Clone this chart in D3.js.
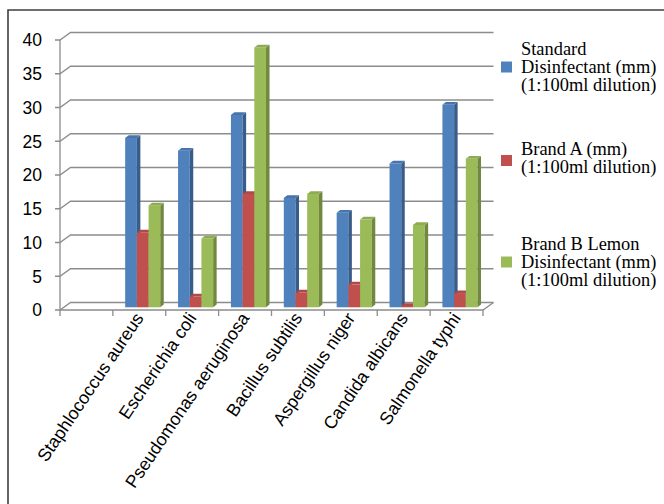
<!DOCTYPE html>
<html>
<head>
<meta charset="utf-8">
<script src="https://cdn.jsdelivr.net/npm/d3@7"></script>
<style>
  body { margin: 0; background: #fff; }
  svg { display: block; }
</style>
</head>
<body>
<svg id="chart" width="664" height="504"></svg>
<script>
const categories = ["Staphlococcus aureus", "Escherichia coli", "Pseudomonas aeruginosa",
  "Bacillus subtilis", "Aspergillus niger", "Candida albicans", "Salmonella typhi"]
const standard = [25.1, 23.2, 28.5, 16.2, 14.0, 21.3, 30.0]
const brandA = [11.1, 1.6, 16.8, 2.2, 3.4, 0.2, 2.1]
const brandB = [15.1, 10.2, 38.5, 16.8, 13.0, 12.2, 22.0]
const seriesNames = [
  ["Standard", "Disinfectant (mm)", "(1:100ml dilution)"],
  ["Brand A (mm)", "(1:100ml dilution)"],
  ["Brand B Lemon", "Disinfectant (mm)", "(1:100ml dilution)"]
]

const colors = [
  {front: "#4f81bd", side: "#385d8a", top: "#4674ab"},
  {front: "#c0504d", side: "#8c3836", top: "#b14a47"},
  {front: "#9bbb59", side: "#71893f", top: "#8eac52"}
]

const svg = d3.select("#chart")

// frame (top + left only, like the cropped original)
svg.append("path")
  .attr("d", "M8,504 L8,10 L664,10")
  .attr("fill", "none")
  .attr("stroke", "#3f3f3f")
  .attr("stroke-width", 1.6)

// the first slot of the axis is empty in the original
const x = d3.scaleBand().domain(["", ...categories]).range([60, 483]).padding(0)
const y = d3.scaleLinear().domain([0, 40]).range([310, 40])

const wall = {dx: 10.5, dy: -7.5}
const bar = {offset: 12.3, width: 11.7, depth: 3.5, rise: -2.7}

const grid = svg.append("g")
  .attr("fill", "none")
  .attr("stroke", "#8c8c8c")
  .attr("stroke-width", 1.3)

y.ticks(8).forEach(v => {
  const yy = y(v)
  grid.append("path")
    .attr("d", `M55,${yy} L60,${yy} L${60 + wall.dx},${yy + wall.dy} L${483 + wall.dx},${yy + wall.dy}`)
})
// floor front edge + right side
grid.append("path")
  .attr("d", `M60,${y(0)} L483,${y(0)} L${483 + wall.dx},${y(0) + wall.dy}`)
// vertical axis
grid.append("path").attr("d", `M60,${y(40)} L60,${y(0)}`)
// x ticks
x.domain().forEach(c => {
  grid.append("path").attr("d", `M${x(c)},${y(0)} L${x(c)},${y(0) + 6}`)
})
grid.append("path").attr("d", `M483,${y(0)} L483,${y(0) + 6}`)

// y labels
svg.append("g")
  .selectAll("text")
  .data(y.ticks(8))
  .join("text")
  .attr("x", 42)
  .attr("y", d => y(d))
  .attr("dy", "0.36em")
  .attr("text-anchor", "end")
  .style("font-family", "'Liberation Sans', Arial, sans-serif")
  .style("font-size", "17.5px")
  .attr("fill", "#000")
  .text(d => d)

// bars
const series = [standard, brandA, brandB]
const bars = svg.append("g")
categories.forEach((cat, ci) => {
  series.forEach((vals, si) => {
    const x0 = x(cat) + bar.offset + si * bar.width
    const x1 = x0 + bar.width
    const base = y(0) + bar.rise
    const top = y(vals[ci]) + bar.rise
    const c = colors[si]
    const g = bars.append("g")
    g.append("rect")
      .attr("x", x0).attr("y", top)
      .attr("width", bar.width).attr("height", base - top)
      .attr("fill", c.front)
    g.append("path")
      .attr("d", `M${x1},${top} L${x1 + bar.depth},${top + bar.rise} L${x1 + bar.depth},${base + bar.rise} L${x1},${base}Z`)
      .attr("fill", c.side)
    g.append("path")
      .attr("d", `M${x0},${top} L${x0 + bar.depth},${top + bar.rise} L${x1 + bar.depth},${top + bar.rise} L${x1},${top}Z`)
      .attr("fill", c.top)
  })
})

// category labels
svg.append("g")
  .selectAll("text")
  .data(categories)
  .join("text")
  .attr("transform", d => `translate(${x(d) + x.bandwidth() / 2 + 5},${y(0) + 8}) rotate(-56)`)
  .attr("text-anchor", "end")
  .style("font-family", "'Liberation Sans', Arial, sans-serif")
  .style("font-size", "17.8px")
  .attr("fill", "#000")
  .text(d => d)

// legend
const legendTop = [43, 143, 238]
const legend = svg.append("g")
seriesNames.forEach((lines, i) => {
  const g = legend.append("g").attr("transform", `translate(0,${legendTop[i]})`)
  const mid = lines.length === 3 ? 24 : 17.5
  g.append("rect")
    .attr("x", 501).attr("y", mid - 5.5)
    .attr("width", 11).attr("height", 11)
    .attr("fill", colors[i].front)
  g.append("text")
    .style("font-family", "'Liberation Serif', 'Times New Roman', serif")
    .style("font-size", "18.4px")
    .attr("fill", "#000")
    .selectAll("tspan")
    .data(lines)
    .join("tspan")
    .attr("x", 521)
    .attr("y", (d, j) => 12 + j * 18)
    .text(d => d)
})
</script>
</body>
</html>
